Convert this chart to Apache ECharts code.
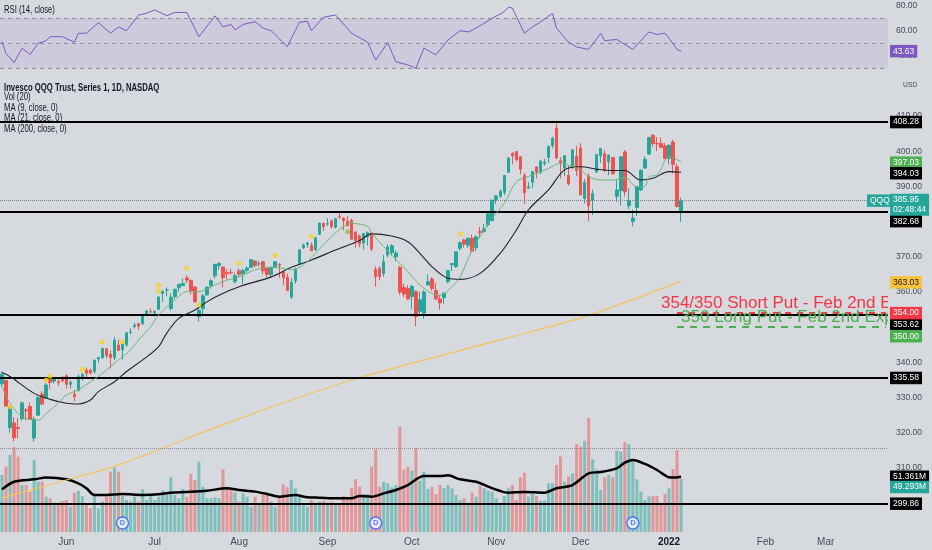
<!DOCTYPE html>
<html><head><meta charset="utf-8">
<script src="https://cdn.jsdelivr.net/npm/echarts@6/dist/echarts.min.js"></script>
<style>html,body{margin:0;padding:0;background:#d6d9de;}#c{width:932px;height:550px;}</style>
</head><body><div id="c"></div>
<script>
// ---------- DATA ----------
const tradingDays = [
  ['2021-05',[7,10,11,12,13,14,17,18,19,20,21,24,25,26,27,28]],
  ['2021-06',[1,2,3,4,7,8,9,10,11,14,15,16,17,18,21,22,23,24,25,28,29,30]],
  ['2021-07',[1,2,6,7,8,9,12,13,14,15,16,19,20,21,22,23,26,27,28,29,30]],
  ['2021-08',[2,3,4,5,6,9,10,11,12,13,16,17,18,19,20,23,24,25,26,27,30,31]],
  ['2021-09',[1,2,3,7,8,9,10,13,14,15,16,17,20,21,22,23,24,27,28,29,30]],
  ['2021-10',[1,4,5,6,7,8,11,12,13,14,15,18,19,20,21,22,25,26,27,28,29]],
  ['2021-11',[1,2,3,4,5,8,9,10,11,12,15,16,17,18,19,22,23,24,26,29,30]],
  ['2021-12',[1,2,3,6,7,8,9,10,13,14,15,16,17,20,21,22,23,27,28,29,30,31]],
  ['2022-01',[3,4,5,6]]
];
const futureBars = 51;
const tickLabels = [[16,'Jun'],[38,'Jul'],[59,'Aug'],[81,'Sep'],[102,'Oct'],[123,'Nov'],[144,'Dec'],[166,'2022'],[190,'Feb'],[205,'Mar']];

const opens = [
333.9,334.9,321.5,322.8,321.5,324.0,326.5,327.5,318.5,325.0,331.0,330.0,335.2,334.7,334.5,335.7,
336.2,333.8,331.0,332.0,335.5,337.8,337.8,337.4,341.0,341.4,343.9,342.3,341.3,344.9,343.6,345.0,348.5,350.2,351.0,351.0,353.8,354.4,
354.1,355.1,359.6,360.6,355.3,358.7,361.2,361.8,364.0,363.3,361.4,353.0,355.3,359.2,361.8,364.6,367.5,367.1,365.5,365.6,362.9,
366.0,365.2,366.2,367.0,368.8,368.0,368.6,366.7,365.0,367.1,367.9,365.6,364.2,358.6,363.2,367.9,372.5,373.5,373.3,372.0,376.4,379.5,
379.3,380.2,378.4,381.5,381.0,380.1,380.4,377.0,376.0,373.9,375.7,376.8,366.4,366.7,365.2,370.5,371.2,370.0,367.0,361.3,361.0,
358.7,360.1,354.5,354.0,362.0,363.7,360.5,358.0,358.4,362.9,367.8,367.2,372.4,374.8,373.3,375.3,372.6,377.2,377.2,379.1,380.3,
386.3,387.2,388.3,394.0,399.4,399.9,398.4,393.1,389.5,391.2,395.5,394.0,396.5,398.3,401.6,406.5,397.3,395.2,393.2,395.3,398.5,
400.9,386.6,392.9,386.1,394.1,398.7,399.3,397.0,398.2,387.2,388.8,399.8,384.5,380.1,384.0,389.0,395.2,399.2,404.5,402.2,402.2,401.5,
398.0,402.6,395.6,382.6];
const highs = [
337.4,335.0,327.8,324.5,324.2,328.9,327.0,328.6,324.6,330.6,331.8,334.1,335.5,335.9,335.2,336.1,
336.6,334.9,332.2,336.6,337.0,338.5,338.3,340.8,341.5,344.1,344.0,343.4,347.2,346.5,345.3,348.7,349.7,351.3,351.1,353.7,355.0,355.3,
354.7,358.7,360.5,361.3,359.6,360.9,362.3,363.9,364.8,363.5,361.6,355.4,359.5,361.5,363.6,368.1,368.5,367.2,366.6,366.6,365.5,
366.7,366.4,367.2,369.3,369.1,368.9,368.9,367.0,367.1,368.6,368.2,366.0,365.2,364.0,366.9,372.2,373.8,374.3,374.1,375.6,379.8,379.7,
381.0,380.6,381.1,382.8,381.2,381.6,380.9,377.3,376.3,376.8,377.2,377.0,367.3,367.3,370.5,373.5,373.6,371.8,367.5,362.4,361.9,
362.0,360.5,360.1,360.5,365.1,364.2,362.6,359.2,360.0,366.2,368.1,371.5,374.4,375.1,375.3,376.3,376.0,378.5,379.3,382.4,386.2,
387.5,389.2,393.2,398.4,399.7,400.0,398.5,393.9,391.2,394.4,395.7,397.6,397.8,401.7,404.1,408.7,398.3,398.8,395.9,400.6,401.5,
402.3,392.0,393.7,389.2,399.3,401.0,400.3,399.0,398.3,391.7,398.4,400.3,389.5,383.4,390.0,394.8,398.5,403.9,404.9,404.0,403.8,402.3,
401.9,403.2,396.5,386.8];
const lows = [
333.0,327.4,320.0,317.5,318.4,323.5,323.6,323.7,317.5,324.8,327.8,329.6,332.4,334.0,333.3,334.3,
332.5,332.6,328.9,331.8,334.8,335.3,336.5,336.8,339.8,340.9,341.1,338.3,340.6,343.3,340.8,344.4,348.0,349.7,349.2,350.7,353.3,354.0,
353.0,355.0,357.2,358.8,354.7,358.1,360.0,361.7,362.5,359.3,356.9,351.6,353.5,358.9,361.0,363.9,366.3,361.3,363.6,364.9,362.4,
364.3,362.2,365.5,366.7,367.0,367.2,365.1,364.2,364.2,366.9,364.0,362.0,360.4,358.0,362.3,367.7,372.2,372.6,371.6,371.7,376.2,377.3,
378.8,378.0,378.0,380.7,377.5,378.6,375.0,372.6,372.7,372.0,373.2,371.6,361.5,363.3,364.3,369.9,370.3,368.7,359.2,358.5,357.8,
355.2,350.3,353.7,352.4,362.0,360.4,358.0,355.0,356.6,362.5,366.0,367.0,371.8,372.6,372.5,371.3,371.6,375.3,376.8,378.5,380.0,
385.0,386.6,387.5,393.8,396.3,397.1,393.4,385.0,389.4,389.5,392.3,393.5,395.9,396.7,400.8,397.8,392.3,393.0,390.2,394.9,392.9,
387.4,385.2,380.1,381.9,393.8,396.7,394.0,393.2,393.3,385.6,384.6,387.1,383.5,378.7,381.6,388.7,395.0,399.0,401.2,400.0,400.8,397.8,
396.3,393.7,384.0,379.9];
const closes = [
336.6,327.6,327.4,318.6,321.2,328.5,326.2,323.8,323.9,330.0,328.2,333.6,334.3,335.6,334.2,334.8,
333.8,334.3,330.3,335.9,336.6,336.9,337.0,340.6,341.4,344.0,341.9,341.4,346.3,343.4,345.3,348.4,348.6,350.6,350.3,353.6,354.6,354.4,
354.5,358.6,360.2,360.6,358.5,360.8,362.2,362.4,363.4,360.4,357.2,354.8,358.9,361.4,363.2,367.8,368.1,364.1,365.2,365.5,364.6,
365.0,366.2,366.8,369.2,367.5,368.0,366.0,365.0,367.0,368.6,367.6,364.0,360.4,362.7,366.5,372.0,373.3,373.9,371.7,375.4,379.5,378.6,
379.4,378.6,380.8,381.4,380.2,378.8,375.0,374.6,373.6,376.6,376.9,372.2,364.4,364.4,368.6,372.8,373.1,371.1,360.0,359.4,358.0,
361.6,353.0,357.8,360.0,362.9,361.0,358.0,356.9,359.6,366.1,368.1,371.4,374.0,373.6,375.3,371.6,375.7,376.9,377.9,382.2,386.1,
387.3,388.6,393.1,398.0,398.7,397.6,394.9,388.2,389.9,394.2,394.1,397.2,396.9,401.3,403.7,398.1,396.8,398.7,390.7,400.4,394.5,
387.6,391.1,384.5,388.0,399.0,400.7,394.6,398.9,393.6,389.0,398.4,388.5,386.0,381.0,389.9,394.6,397.7,403.9,402.2,402.1,401.1,397.9,
401.7,396.3,384.3,385.95];
// volume in millions
const volumes = [
53,60.7,71.5,79,70,43.6,43.6,37.5,66.9,46.7,46.7,32.8,31.3,25,27.2,28.8,
29.7,23.5,36.5,38.4,33.4,26.6,22,33.4,22,28.2,32.8,56,59.8,56,33.4,29.7,28.2,32.8,28.2,39.6,29.7,34.4,
29.7,32.8,38.4,34.4,50.8,34.4,31.3,40,32.8,53.9,48.3,65.3,42,31.3,31.3,32.2,31.3,58.2,40.6,39,36.8,
28.2,35.9,32.8,23.5,32.8,26.6,35.3,35.3,28.2,23.5,32.8,44.3,41.5,48.3,40.6,32.8,25,23.5,29.7,27.2,28.2,28.8,
27.2,28.2,25,25,33.4,31.3,40.6,48.9,42.1,35.3,35.3,60.7,76.8,42,46.7,45.2,41.5,43.6,97.8,58.2,60.7,
57,77.7,47.7,56,40,42,35.3,43.6,40.6,43.6,40.6,34.4,29.7,31.3,26.6,36.5,32.8,42.7,40.6,38.4,37.5,
31.3,26.6,33.4,40.6,43.6,29.7,50.8,55.1,32.8,35.3,33.4,29.1,29.1,45.2,45.2,62.2,70,46.7,51.4,54.5,81.7,
79.3,84.8,105.6,67.5,58.2,39,50.8,52.9,50.8,75.5,74.6,83.6,81.7,65.3,48.9,37.5,29.7,32.8,33.4,33.4,25,35.3,
40.6,58.5,76.2,49.293];
const volMaPts = [[0,39.6],[3,46.7],[8,48.9],[11,50.5],[16,48.9],[19,45.2],[21,40.6],[23,34.4],[26,34.4],[30,35.3],[35,34.4],[39,35],[42,36.5],[46,37.2],[51,38.4],[56,40.6],[59,39],[63,37.5],[66,35.3],[69,32.8],[73,34.4],[76,32.2],[79,31.9],[83,31.3],[87,31.3],[89,33.4],[92,32.8],[95,35.9],[98,39],[101,43.6],[105,52],[109,52],[111,52.6],[114,48.9],[118,46.7],[121,42.1],[124,38.1],[126,36.5],[130,37.2],[135,36.5],[138,40.6],[142,43.6],[146,54.5],[149,55.7],[153,59.1],[155,64.4],[157,66.9],[160,63.2],[163,57.6],[166,50.8],[167,50.5],[169,51.361]];
const ma9Pts = [[0,333.1],[2,328.4],[5,324.6],[9,323.6],[11,325.5],[14,328.4],[16,330.7],[19,332.2],[22,334.5],[24,336],[27,338.8],[29,340.7],[32,343.5],[34,346.4],[37,350.1],[39,353.5],[43,357.7],[46,360.1],[49,360.1],[52,361.5],[56,363.4],[59,364.3],[63,366.3],[67,367],[70,366.7],[72,366.3],[75,367.7],[78,371],[82,375.7],[85,378.6],[87,379.5],[91,378.6],[92,376.7],[95,372.9],[97,370.5],[101,365.8],[104,362],[107,359.6],[109,359.1],[112,361.5],[114,364.3],[117,371.9],[121,379.5],[125,385.2],[128,391.3],[131,392.8],[133,393.7],[136,395.1],[139,396.6],[142,395.6],[144,394.7],[146,392.8],[149,391.8],[152,391.8],[155,392.5],[158,389.9],[160,390],[161,392.8],[163,393.2],[166,398.4],[169,397.03]];
const ma21Pts = [[0,337.1],[2,336],[8,331.2],[12,329.5],[16,328.4],[19,328.2],[22,329.3],[24,331.7],[28,334.5],[31,337.4],[35,340.7],[39,344.5],[41,348.3],[44,352.5],[48,354.9],[51,357.2],[54,359.1],[59,361.5],[67,364.3],[72,367],[77,369.1],[83,371.9],[89,374.6],[92,376.5],[97,375.9],[101,374.3],[104,371],[107,367.2],[111,363.9],[114,363.6],[119,365.3],[124,371],[128,377.6],[131,383.3],[136,389],[140,394.7],[144,395.6],[148,394.9],[152,394.5],[155,394.5],[159,391.8],[162,392.3],[166,394.2],[169,394.03]];
const ma200Pts = [[0,301.5],[16,306.6],[29,310.9],[58,323.6],[87,335.0],[124,346.4],[145,353.0],[169,363.03]];
const rsiPts = [[0,51.2],[1,41.9],[3,34.4],[5,45.9],[7,41],[9,49.9],[11,52],[12,55.2],[15,55.2],[18,50.8],[19,57.9],[21,58],[24,66.4],[27,58],[29,63],[31,60],[34,72.6],[36,73.9],[38,76.6],[41,72],[43,74.6],[46,74.6],[49,55.2],[53,71.9],[55,63],[57,65],[58,60.6],[60,65],[63,67.2],[65,62],[67,60],[71,47.2],[74,66.7],[76,67.5],[77,60],[80,70.7],[83,72.6],[87,58],[91,50.8],[93,36.6],[96,50.4],[98,35.2],[101,32.6],[103,29.9],[105,46],[108,40.7],[111,52.6],[114,60],[116,59],[117,60.3],[119,64],[122,69.9],[125,75.2],[126,78.7],[127,78.2],[130,58],[132,63],[134,67],[137,73.9],[138,62],[141,50.8],[143,47],[146,45],[149,57.9],[150,52],[153,53],[157,45],[159,52],[161,59],[163,57],[165,58],[166,54],[168,45],[169,43.63]];
const signalDots = [[2,327.4],[11,335],[12,336.1],[20,338],[25,345.9],[30,345.9],[39,362],[39,360.3],[46,366.7],[49,356.3],[59,368.2],[68,370.4],[77,375.7],[114,376.5]];
const greenDots = [[86,377.1]];
const dividendIdx = [30, 93, 157];
const blackLevels = [408.28, 382.68, 353.62, 335.58, 299.86];
const lastPrice = 385.95;
const countdown = '02:48:44';
const shortPut = 354.00, longPut = 350.00, putLineStart = 168;
const annoText = ['354/350 Short Put - Feb 2nd Exp', '350 Long Put - Feb 2nd Exp'];
const annoPos = [[164, 356.8], [169, 352.8]];
const volRefLevel = 77.7;
const rsiLevels = [70, 50, 30];
const hiddenPriceLabels = [290, 300, 350, 380, 420];
const rsiLabels = [80, 60, 40];

// ---------- BUILD ----------
const dates = [];
tradingDays.forEach(([m, ds]) => ds.forEach(d => dates.push(m + '-' + String(d).padStart(2, '0'))));
const cats = dates.concat(Array.from({length: futureBars}, (_, k) => 'f' + (k + 1)));
const tickMap = {}; tickLabels.forEach(([i, t]) => tickMap[i] = t);
const FONT = "'Liberation Sans',sans-serif";
const UP = '#26a69a', DOWN = '#ef5350';
const AX = '#474a54';
const last = a => a[a.length - 1][1];

function tag(value, text, bg, fg, dy, lineStyle) {
  return {
    yAxis: value,
    lineStyle: lineStyle || {width: 0, color: 'rgba(0,0,0,0)'},
    label: {show: true, position: 'end', distance: 2, formatter: text, backgroundColor: bg, color: fg || '#fff',
      padding: [2, 3, 1, 3], fontSize: 8.5, lineHeight: 9.5, fontFamily: FONT, offset: [0, dy || 0]}
  };
}
const blackLine = {color: '#000', width: 2, type: 'solid'};

const candleData = opens.map((o, i) => [o, closes[i], lows[i], highs[i]]);
const volData = volumes.map((v, i) => ({value: v, itemStyle: {color: closes[i] >= opens[i] ? 'rgba(38,166,154,0.5)' : 'rgba(239,83,80,0.5)'}}));

const priceLevelMarks = [
  ...blackLevels.map(v => tag(v, v.toFixed(2), '#000', '#fff', v === 382.68 ? 9 : (v === 353.62 ? 10 : 0), blackLine)),
  {yAxis: lastPrice, lineStyle: {color: '#7b7f8a', width: 1, type: 'dotted'}, label: {show: false}},
  tag(last(ma9Pts), last(ma9Pts).toFixed(2), '#4caf50', '#fff', 1),
  tag(last(ma21Pts), last(ma21Pts).toFixed(2), '#000', '#fff', 1),
  tag(last(ma200Pts), last(ma200Pts).toFixed(2), '#f9c23c', '#131722', 1),
  tag(lastPrice, lastPrice.toFixed(2) + '\n' + countdown, UP, '#fff', 4),
  {yAxis: lastPrice, lineStyle: {width: 0, color: 'rgba(0,0,0,0)'}, label: {show: true, position: 'end', distance: 0, offset: [-21, 0], formatter: 'QQQ', backgroundColor: UP, color: '#fff', padding: [2, 3, 1, 3], fontSize: 8.5, lineHeight: 9.5, fontFamily: FONT}},
  [{coord: [putLineStart, shortPut], lineStyle: {color: '#f23645', width: 2, type: [6, 6]}, label: {show: false}}, {coord: [cats.length - 1, shortPut]}],
  [{coord: [putLineStart, longPut], lineStyle: {color: '#4caf50', width: 2, type: [7, 6]}, label: {show: false}}, {coord: [cats.length - 1, longPut]}],
  tag(shortPut, shortPut.toFixed(2), '#f23645', '#fff', 0),
  tag(longPut, longPut.toFixed(2), '#4caf50', '#fff', 9),
];

function legendText(txt, top, bold) {
  return {type: 'text', left: 4, top: top, z: 100, scaleX: 0.7,
    style: {text: txt, fill: '#131722', font: (bold ? 'bold ' : '') + '11px ' + FONT}};
}

const option = {
  animation: false,
  backgroundColor: '#d6d9de',
  grid: [
    {left: 0, right: 44, top: 5.7, bottom: 481.8},
    {left: 0, right: 44, top: 80.8, bottom: 11.6},
    {left: 0, right: 44, top: 75, bottom: 18}
  ],
  xAxis: [0, 1, 2].map(g => ({
    type: 'category', gridIndex: g, data: cats, boundaryGap: true, show: g === 2,
    axisLine: {show: false}, axisTick: {show: false}, splitLine: {show: false},
    axisLabel: g === 2 ? {
      interval: (i) => tickMap[i] !== undefined,
      formatter: (v, i) => tickMap[i] === '2022' ? '{b|2022}' : (tickMap[i] || ''),
      color: AX, fontSize: 10, fontFamily: FONT, margin: 5,
      rich: {b: {fontWeight: 'bold', color: '#131722', fontSize: 10, fontFamily: FONT}}
    } : {show: false}
  })),
  yAxis: [
    {type: 'value', gridIndex: 0, position: 'right', min: 30, max: 80, interval: 10, splitLine: {show: false},
      axisLine: {show: false}, axisTick: {show: false},
      axisLabel: {margin: 8, color: AX, fontSize: 8.5, fontFamily: FONT, formatter: v => rsiLabels.includes(v) ? v.toFixed(2) : ''}},
    {type: 'value', gridIndex: 1, position: 'right', min: 290, max: 420, interval: 10, splitLine: {show: false},
      axisLine: {show: false}, axisTick: {show: false},
      axisLabel: {margin: 8, color: AX, fontSize: 8.5, fontFamily: FONT, formatter: v => hiddenPriceLabels.includes(v) ? '' : v.toFixed(2)}},
    {type: 'value', gridIndex: 2, min: 0, max: 424.4, show: false}
  ],
  graphic: [
    legendText('RSI (14, close)', 4.5, false),
    legendText('Invesco QQQ Trust, Series 1, 1D, NASDAQ', 82, true),
    legendText('Vol (20)', 91.5, false),
    legendText('MA (9, close, 0)', 102.2, false),
    legendText('MA (21, close, 0)', 112.8, false),
    legendText('MA (200, close, 0)', 123.5, false),
    {type: 'text', left: 903, top: 81, z: 100, scaleX: 0.85, style: {text: 'USD', fill: AX, font: '8px ' + FONT}}
  ],
  series: [
    // RSI
    {type: 'line', xAxisIndex: 0, yAxisIndex: 0, data: rsiPts, symbol: 'none', clip: false,
      lineStyle: {color: '#7e57c2', width: 1}, z: 3,
      markArea: {silent: true, itemStyle: {color: 'rgba(126,87,194,0.10)'}, data: [[{yAxis: 30}, {yAxis: 70}]]},
      markLine: {silent: true, symbol: ['none', 'none'], data: [
        ...rsiLevels.map(v => ({yAxis: v, lineStyle: {color: '#787b86', width: 1, type: [4, 4], opacity: 0.8}, label: {show: false}})),
        tag(last(rsiPts), last(rsiPts).toFixed(2), '#7e57c2', '#fff', 0)
      ]}},
    // Volume
    {type: 'bar', xAxisIndex: 2, yAxisIndex: 2, data: volData, barWidth: 3, z: 1},
    {type: 'line', xAxisIndex: 2, yAxisIndex: 2, data: volMaPts, symbol: 'none', smooth: 0.3,
      lineStyle: {color: '#000', width: 2.5}, z: 2},
    {type: 'line', xAxisIndex: 2, yAxisIndex: 2, data: [], clip: false, z: 6,
      markLine: {silent: true, symbol: ['none', 'none'], data: [
        {yAxis: volRefLevel, lineStyle: {color: '#8a8d96', width: 1, type: 'dotted'}, label: {show: false}},
        tag(last(volMaPts), last(volMaPts).toFixed(3) + 'M', '#000', '#fff', 0),
        tag(volumes[volumes.length - 1], volumes[volumes.length - 1].toFixed(3) + 'M', UP, '#fff', 8)
      ]}},
    {type: 'scatter', xAxisIndex: 2, yAxisIndex: 2, data: dividendIdx.map(i => [i, 0]), symbol: 'circle', symbolSize: 12,
      symbolOffset: [0, -9], z: 7, itemStyle: {color: '#f4f6fb', borderColor: '#2962ff', borderWidth: 1.5},
      label: {show: true, position: 'inside', formatter: 'D', color: '#2962ff', fontSize: 7.5, fontWeight: 'bold', fontFamily: FONT}},
    // Price
    {type: 'line', xAxisIndex: 1, yAxisIndex: 1, data: ma200Pts, symbol: 'none', smooth: 0.3,
      lineStyle: {color: '#f6c35a', width: 1.2}, z: 3},
    {type: 'candlestick', xAxisIndex: 1, yAxisIndex: 1, data: candleData, barWidth: 3, z: 4,
      itemStyle: {color: UP, color0: DOWN, borderColor: UP, borderColor0: DOWN, borderWidth: 1}},
    {type: 'line', xAxisIndex: 1, yAxisIndex: 1, data: ma21Pts, symbol: 'none', smooth: 0.35,
      lineStyle: {color: '#1e222d', width: 1.1}, z: 5},
    {type: 'line', xAxisIndex: 1, yAxisIndex: 1, data: ma9Pts, symbol: 'none', smooth: 0.35,
      lineStyle: {color: '#6fb57a', width: 1}, z: 5},
    {type: 'scatter', xAxisIndex: 1, yAxisIndex: 1, data: signalDots, symbolSize: 5, z: 6, itemStyle: {color: '#f8d21c'}},
    {type: 'scatter', xAxisIndex: 1, yAxisIndex: 1, data: greenDots, symbolSize: 5, z: 6, itemStyle: {color: '#8bc34a'}},
    {type: 'line', xAxisIndex: 1, yAxisIndex: 1, data: [], clip: false, z: 8,
      markLine: {silent: true, symbol: ['none', 'none'], data: priceLevelMarks}},
    {type: 'custom', xAxisIndex: 1, yAxisIndex: 1, clip: true, z: 9, data: annoPos,
      renderItem: (params, api) => {
        const p = api.coord([api.value(0), api.value(1)]);
        return {type: 'text', x: p[0], y: p[1], style: {text: annoText[params.dataIndex],
          fill: params.dataIndex === 0 ? '#f23645' : '#4caf50', font: '17px "Liberation Sans", sans-serif',
          align: 'left', verticalAlign: 'middle'}};
      }}
  ]
};
const chart = echarts.init(document.getElementById('c'));
chart.setOption(option);
</script></body></html>
